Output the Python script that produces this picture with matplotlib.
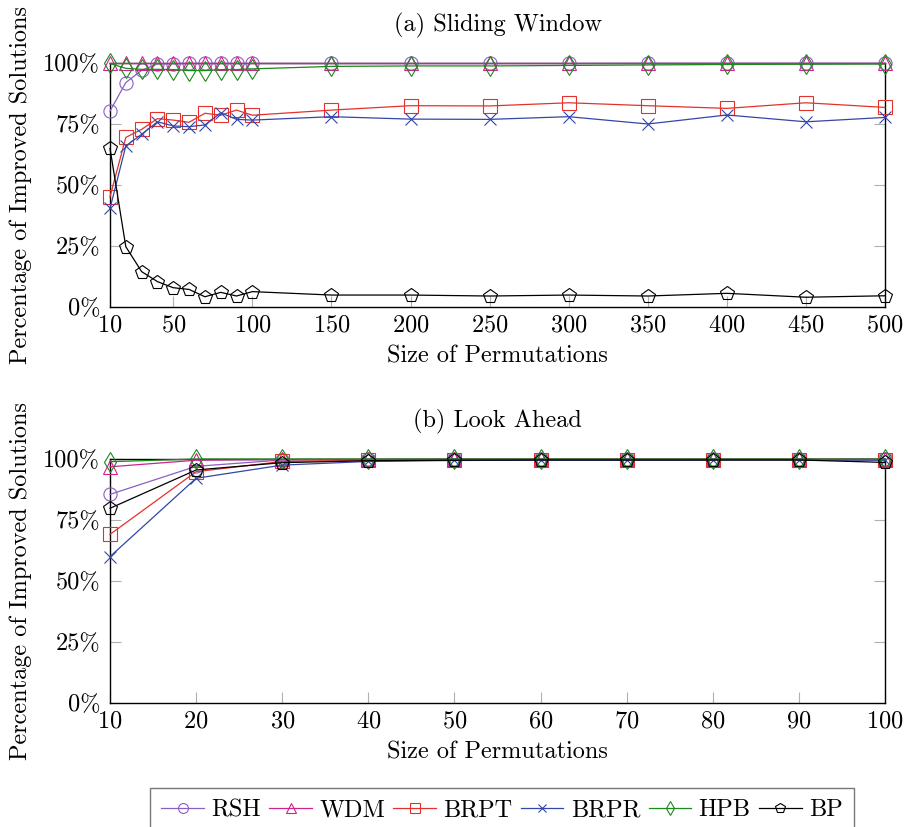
import numpy as np
import matplotlib
matplotlib.use("Agg")
import matplotlib.pyplot as plt
from matplotlib.ticker import FuncFormatter

plt.rcParams['font.family'] = ['cmr10', 'DejaVu Serif']
plt.rcParams['mathtext.fontset'] = 'cm'
plt.rcParams['axes.unicode_minus'] = False
plt.rcParams['axes.formatter.use_mathtext'] = True

# (a) Sliding Window
sizes_a = [10, 20, 30, 40, 50, 60, 70, 80, 90, 100, 150, 200, 250, 300, 350, 400, 450, 500]
rsh_a = [80.3, 92.0, 97.0, 99.6, 99.7, 99.8, 99.8, 99.8, 99.8, 99.8, 99.8, 99.8, 99.8, 99.8, 99.9, 99.9, 99.9, 99.9]
wdm_a = [99.9, 99.9, 99.9, 99.9, 99.9, 99.9, 99.9, 99.9, 99.9, 99.9, 99.9, 99.9, 99.9, 99.9, 99.9, 99.9, 99.9, 99.9]
brpt_a = [45.2, 69.5, 72.8, 77.2, 76.6, 75.7, 79.4, 78.6, 80.7, 78.6, 80.7, 82.5, 82.4, 83.7, 82.5, 81.4, 83.7, 81.8]
brpr_a = [40.4, 66.0, 70.8, 75.9, 74.2, 73.9, 74.6, 79.6, 76.9, 76.6, 78.0, 77.0, 76.9, 78.0, 75.0, 78.7, 75.9, 77.7]
hpb_a = [99.8, 97.8, 97.4, 97.4, 97.3, 96.9, 96.9, 97.3, 97.3, 97.6, 98.6, 98.8, 98.8, 99.0, 99.2, 99.4, 99.5, 99.6]
bp_a = [65.0, 24.7, 14.5, 10.4, 7.9, 7.2, 4.2, 6.0, 4.5, 6.3, 4.9, 4.9, 4.5, 4.9, 4.5, 5.6, 4.0, 4.6]
ticks_a = [10, 50, 100, 150, 200, 250, 300, 350, 400, 450, 500]

# (b) Look Ahead
sizes_b = [10, 20, 30, 40, 50, 60, 70, 80, 90, 100]
rsh_b = [85.5, 97.0, 99.6, 99.8, 99.9, 99.9, 99.9, 99.9, 99.9, 99.9]
wdm_b = [96.8, 99.5, 99.8, 99.9, 100.0, 100.0, 100.0, 100.0, 100.0, 100.0]
brpt_b = [69.1, 94.8, 99.0, 99.5, 99.7, 99.7, 99.7, 99.7, 99.7, 99.7]
brpr_b = [60.0, 92.1, 97.5, 99.0, 99.4, 99.5, 99.5, 99.6, 99.6, 99.5]
hpb_b = [98.9, 100.0, 100.0, 100.0, 100.0, 100.0, 100.0, 100.0, 100.0, 100.0]
bp_b = [79.8, 95.5, 98.5, 99.3, 99.5, 99.6, 99.6, 99.6, 99.6, 98.6]
ticks_b = [10, 20, 30, 40, 50, 60, 70, 80, 90, 100]

names = ['RSH', 'WDM', 'BRPT', 'BRPR', 'HPB', 'BP']
colors = ['#8a5fc6', '#d0228f', '#e3322b', '#3446a6', '#1a8a1a', '#000000']
markers = ['o', '^', 's', 'x', 'd', 'p']
msizes = [9.5, 9.5, 9.5, 8, 10, 10]

fig = plt.figure(figsize=(9.08, 8.27), dpi=100)
ax_a = fig.add_axes([110 / 908, 1 - 307 / 827, 775 / 908, 244 / 827])
ax_b = fig.add_axes([110 / 908, 1 - 703 / 827, 775 / 908, 244 / 827])


def draw(ax, x, series, ticks, title):
    for vals, name, c, m, ms in zip(series, names, colors, markers, msizes):
        ax.plot(x, vals, color=c, marker=m, markersize=ms, markerfacecolor='none',
                markeredgewidth=0.8, linewidth=0.9, label=name, clip_on=False, zorder=3)
    ax.set_xlim(ticks[0], ticks[-1])
    ax.set_ylim(0, 100)
    ax.set_xticks(ticks)
    ax.set_yticks([0, 25, 50, 75, 100])
    ax.yaxis.set_major_formatter(FuncFormatter(lambda v, p: f"{v:.0f}%"))
    ax.tick_params(which='both', direction='in', length=8, width=0.8, color='#b0b0b0',
                   labelsize=17.5, top=False, right=True)
    ax.tick_params(axis='x', pad=5)
    ax.tick_params(axis='y', pad=7)
    for s in ax.spines.values():
        s.set_linewidth(1.0)
    ax.set_title(title, fontsize=17.5, pad=23)
    ax.set_xlabel('Size of Permutations', fontsize=17.5)
    ax.set_ylabel('Percentage of Improved Solutions', fontsize=17.5)
    ax.xaxis.set_label_coords(0.5, -0.158)
    ax.yaxis.set_label_coords(-0.100, 0.5)


draw(ax_a, sizes_a, [rsh_a, wdm_a, brpt_a, brpr_a, hpb_a, bp_a], ticks_a, '(a) Sliding Window')
draw(ax_b, sizes_b, [rsh_b, wdm_b, brpt_b, brpr_b, hpb_b, bp_b], ticks_b, '(b) Look Ahead')

handles, labels = ax_a.get_legend_handles_labels()
leg = fig.legend(handles, labels, loc='upper center', bbox_to_anchor=(502 / 908, 1 - 788 / 827),
                 ncol=6, fontsize=17.5, frameon=True, fancybox=False, handlelength=1.75,
                 handletextpad=0.3, columnspacing=0.35, borderpad=0.45, borderaxespad=0,
                 markerscale=0.75)
leg.get_frame().set_edgecolor('#555555')
leg.get_frame().set_linewidth(1.0)

fig.savefig('out.png', dpi=100)
